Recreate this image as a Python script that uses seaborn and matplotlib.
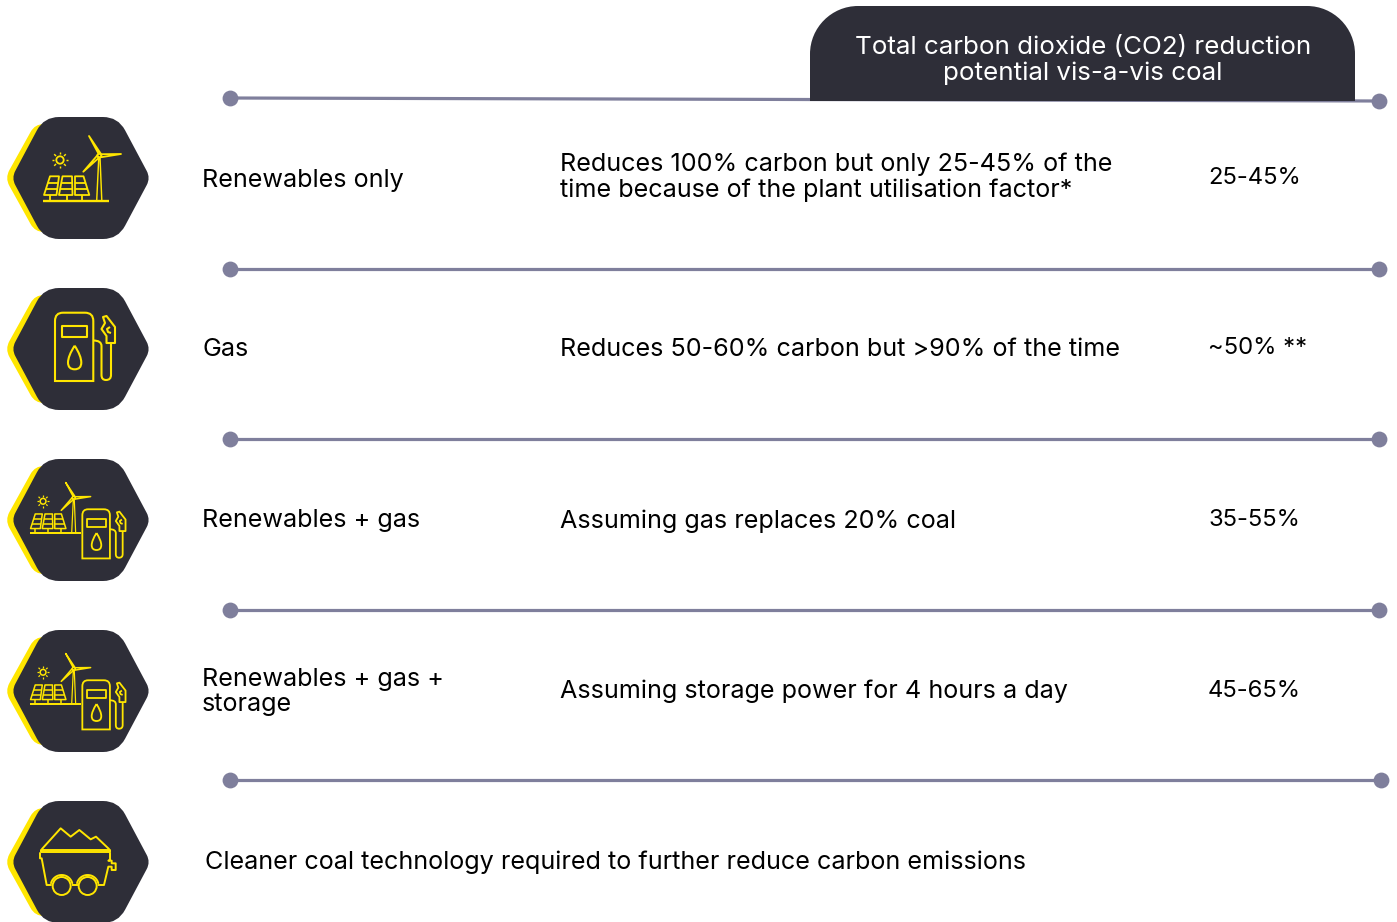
import numpy as np
import pandas as pd
import matplotlib
matplotlib.use("Agg")
import matplotlib.pyplot as plt
from matplotlib.path import Path
from matplotlib.patches import PathPatch, Circle, Polygon
import seaborn as sns

# ---- chart content ----
options = ["Renewables only", "Gas", "Renewables + gas", "Renewables + gas +\nstorage"]
notes = ["Reduces 100% carbon but only 25-45% of the\ntime because of the plant utilisation factor*",
         "Reduces 50-60% carbon but >90% of the time",
         "Assuming gas replaces 20% coal",
         "Assuming storage power for 4 hours a day"]
reductions = ["25-45%", "~50% **", "35-55%", "45-65%"]
header_text = "Total carbon dioxide (CO2) reduction\npotential vis-a-vis coal"
footer_text = "Cleaner coal technology required to further reduce carbon emissions"

DARK, YELLOW, RULE = "#2e2e38", "#ffe600", "#7f7f9c"

sns.set_theme(style="white")
plt.rcParams["font.family"] = ["Inter", "DejaVu Sans"]
FS = 18.1

fig = plt.figure(figsize=(13.97, 9.22), dpi=100)
ax = fig.add_axes([0, 0, 1, 1])

# ---- separators ----
rule_left = [98, 269, 439, 610, 780]
rule_right = [101, 269, 439, 610, 780]
rule_end = [1379, 1379, 1379, 1379, 1381]
rows = []
for i, (a, b, e) in enumerate(zip(rule_left, rule_right, rule_end)):
    rows += [dict(rule=i, x=230, y=a), dict(rule=i, x=e, y=b)]
rules = pd.DataFrame(rows)
sns.lineplot(data=rules, x="x", y="y", units="rule", estimator=None, color=RULE,
             lw=2.3, ax=ax, legend=False, zorder=2, solid_capstyle="butt")
sns.scatterplot(data=rules, x="x", y="y", color=RULE, s=130, linewidth=0, ax=ax, legend=False, zorder=3)
ax.set_xlim(0, 1397); ax.set_ylim(922, 0); ax.axis("off")


def rounded(pts, rad):
    pts = [np.array(p, float) for p in pts]
    n = len(pts)
    v, c = [], []
    for i, p in enumerate(pts):
        a, b = pts[i - 1], pts[(i + 1) % n]
        r = rad[i]
        p1 = p + (a - p) / np.linalg.norm(a - p) * r
        p2 = p + (b - p) / np.linalg.norm(b - p) * r
        v += [p1, p, p2]
        c += [Path.MOVETO if i == 0 else Path.LINETO, Path.CURVE3, Path.CURVE3]
    v.append(v[0]); c.append(Path.CLOSEPOLY)
    return Path(v, c)


def hexagon(cy):
    yel = [(5, cy), (35, cy - 54), (70, cy - 54), (70, cy + 54), (35, cy + 54)]
    ax.add_patch(PathPatch(rounded(yel, [9, 9, 1, 1, 9]), fc=YELLOW, ec="none", zorder=4))
    cx, w, h, f = 81, 69.5, 61, 37
    pts = [(cx - w, cy), (cx - f, cy - h), (cx + f, cy - h), (cx + w, cy), (cx + f, cy + h), (cx - f, cy + h)]
    ax.add_patch(PathPatch(rounded(pts, [8, 15, 15, 8, 15, 15]), fc=DARK, ec="none", zorder=5))


def L(pts, ox, oy, s, lw=1.5, closed=False, z=6):
    p = [(ox + x * s, oy + y * s) for x, y in pts]
    ax.add_patch(Polygon(p, closed=closed, fill=False, ec=YELLOW, lw=lw, zorder=z, joinstyle="round"))


def solar_wind(ox, oy, s, lw):
    L([(-44.7, 22.7), (21, 22.7)], ox, oy, s, lw * 1.3)
    for tx0, tx1, bx0, bx1, leg in [(-38, -29, -44, -31.5, -38), (-25.5, -16, -29, -15.5, -21.3), (-13, -4.5, -13, 1.3, -5.6)]:
        L([(tx0, -1.7), (tx1, -1.7), (bx1, 17), (bx0, 17)], ox, oy, s, lw, True)
        for t in (1 / 3, 2 / 3):
            L([(tx0 + (bx0 - tx0) * t, -1.7 + 18.7 * t), (tx1 + (bx1 - tx1) * t, -1.7 + 18.7 * t)], ox, oy, s, lw)
        L([(leg, 17), (leg, 22.7)], ox, oy, s, lw)
    sx, sy = -28, -18
    ax.add_patch(Circle((ox + sx * s, oy + sy * s), 3.7 * s, fill=False, ec=YELLOW, lw=lw, zorder=6))
    for t in np.deg2rad(np.arange(0, 360, 45)):
        L([(sx + 5.6 * np.cos(t), sy + 5.6 * np.sin(t)), (sx + 8.2 * np.cos(t), sy + 8.2 * np.sin(t))], ox, oy, s, lw * .8)
    L([(8.7, 22.7), (10.8, -21), (12, -21), (13.8, 22.7)], ox, oy, s, lw * .8)
    hx, hy = 11.3, -22.3
    L([(hx - .8, hy - 2), (1, -42), (hx + 1.5, hy - 2)], ox, oy, s, lw, True)
    L([(hx + 2, hy - 1.5), (33, -24), (hx + 2, hy + 1.5)], ox, oy, s, lw, True)
    L([(hx - 2, hy - .3), (-4.7, -6.3), (hx - .3, hy + 2)], ox, oy, s, lw, True)
    ax.add_patch(Circle((ox + hx * s, oy + hy * s), 2 * s, fill=False, ec=YELLOW, lw=lw, zorder=6))


def pump(ox, oy, s, lw):
    p = Path([(-33, 32), (-33, -28), (-33, -36.3), (-25, -36.3), (-3, -36.3), (5.3, -36.3), (5.3, -28), (5.3, 32), (-33, 32)],
             [Path.MOVETO, Path.LINETO, Path.CURVE3, Path.CURVE3, Path.LINETO, Path.CURVE3, Path.CURVE3, Path.LINETO, Path.CLOSEPOLY])
    tr = lambda P: Path(P.vertices * s + [ox, oy], P.codes)
    ax.add_patch(PathPatch(tr(p), fill=False, ec=YELLOW, lw=lw, zorder=6))
    L([(-26.3, -23.3), (-0.7, -23.3), (-0.7, -11.7), (-26.3, -11.7)], ox, oy, s, lw, True)
    d = Path([(-13.3, -3.3), (-20, 7), (-20, 13.5), (-20, 20.3), (-13.3, 20.3), (-6.7, 20.3), (-6.7, 13.5), (-6.7, 7), (-13.3, -3.3)],
             [Path.MOVETO, Path.CURVE3, Path.CURVE3, Path.CURVE3, Path.CURVE3, Path.CURVE3, Path.CURVE3, Path.CURVE3, Path.CURVE3])
    ax.add_patch(PathPatch(tr(d), fill=False, ec=YELLOW, lw=lw, zorder=6))
    h = Path([(5.3, -8.5), (13.5, -8.5), (13.5, -3), (13.5, 26), (13.5, 31), (18, 31), (23, 31), (23, 26), (23, -6)],
             [Path.MOVETO, Path.CURVE3, Path.CURVE3, Path.LINETO, Path.CURVE3, Path.CURVE3, Path.CURVE3, Path.CURVE3, Path.LINETO])
    ax.add_patch(PathPatch(tr(h), fill=False, ec=YELLOW, lw=lw, zorder=6))
    L([(15, -32), (18.5, -33), (27, -22), (27, -6), (18.5, -6), (18.5, -13), (13.5, -20), (17, -26)], ox, oy, s, lw, True)
    L([(22, -22), (19, -20), (20, -17), (23, -16)], ox, oy, s, lw)


def cart(ox, oy, s, lw):
    pts = lambda A: [((x - 264) / 3, (y - 216) / 3) for x, y in A]
    L(pts([(125, 178), (182, 115), (212, 140), (238, 120), (272, 148), (288, 140), (328, 178)]), ox, oy, s, lw)
    L(pts([(123, 181), (330, 181), (330, 187), (123, 187)]), ox, oy, s, lw, True)
    L(pts([(120, 187), (120, 205), (125, 205), (140, 285), (155, 285)]), ox, oy, s, lw)
    L(pts([(216, 285), (234, 285)]), ox, oy, s, lw)
    L(pts([(293, 285), (312, 285), (325, 230), (335, 230), (335, 240), (347, 240), (347, 220),
           (335, 220), (335, 212), (325, 212), (330, 210), (330, 187)]), ox, oy, s, lw)
    for wx in (185, 263):
        c = (ox + (wx - 264) / 3 * s, oy + (288 - 216) / 3 * s)
        ax.add_patch(Circle(c, 9 * s, fill=False, ec=YELLOW, lw=lw, zorder=6))
        th = np.deg2rad(np.linspace(-165, -15, 30))
        ax.plot(c[0] + 11 * np.cos(th), c[1] + 11 * np.sin(th), color=YELLOW, lw=lw, zorder=6)


centers = [178, 349, 520, 691, 862]
for cy in centers:
    hexagon(cy)

solar_wind(88, 178, 1.0, 1.3)
pump(88, 349, 1.0, 1.5)
for cy in centers[2:4]:
    solar_wind(88 - 23.1, cy - 4.7, 0.78, 1.1)
    pump(88 + 18.1, cy + 15.4, 0.72, 1.3)
cart(88, 862, 1.0, 1.4)

# ---- header tab ----
r, k = 48, 0.45
x0, x1, y0, y1 = 810, 1355, 6, 101
tab = Path([(x0, y1), (x0, y0 + r), (x0, y0 + r * k), (x0 + r * k, y0), (x0 + r, y0), (x1 - r, y0),
            (x1 - r * k, y0), (x1, y0 + r * k), (x1, y0 + r), (x1, y1), (x0, y1)],
           [Path.MOVETO, Path.LINETO, Path.CURVE4, Path.CURVE4, Path.CURVE4, Path.LINETO,
            Path.CURVE4, Path.CURVE4, Path.CURVE4, Path.LINETO, Path.CLOSEPOLY])
ax.add_patch(PathPatch(tab, fc=DARK, ec="none", zorder=7))
T = dict(fontsize=FS, color="black", va="center", ha="left", linespacing=1.15, zorder=8)
ax.text(1083, 60.5, header_text, **{**T, "color": "white", "ha": "center", "fontsize": 18.7})

option_y = [181, 349, 520, 692]
note_y = [177.5, 349, 521, 691]
value_y = [178, 348, 520, 691]
for i in range(4):
    ax.text(202, option_y[i], options[i], **T)
    ax.text(560, note_y[i], notes[i], **T)
    ax.text(1208, value_y[i], reductions[i], **{**T, "fontsize": 17.2})
ax.text(205, 862, footer_text, **T)

fig.savefig("out.png", dpi=100)
